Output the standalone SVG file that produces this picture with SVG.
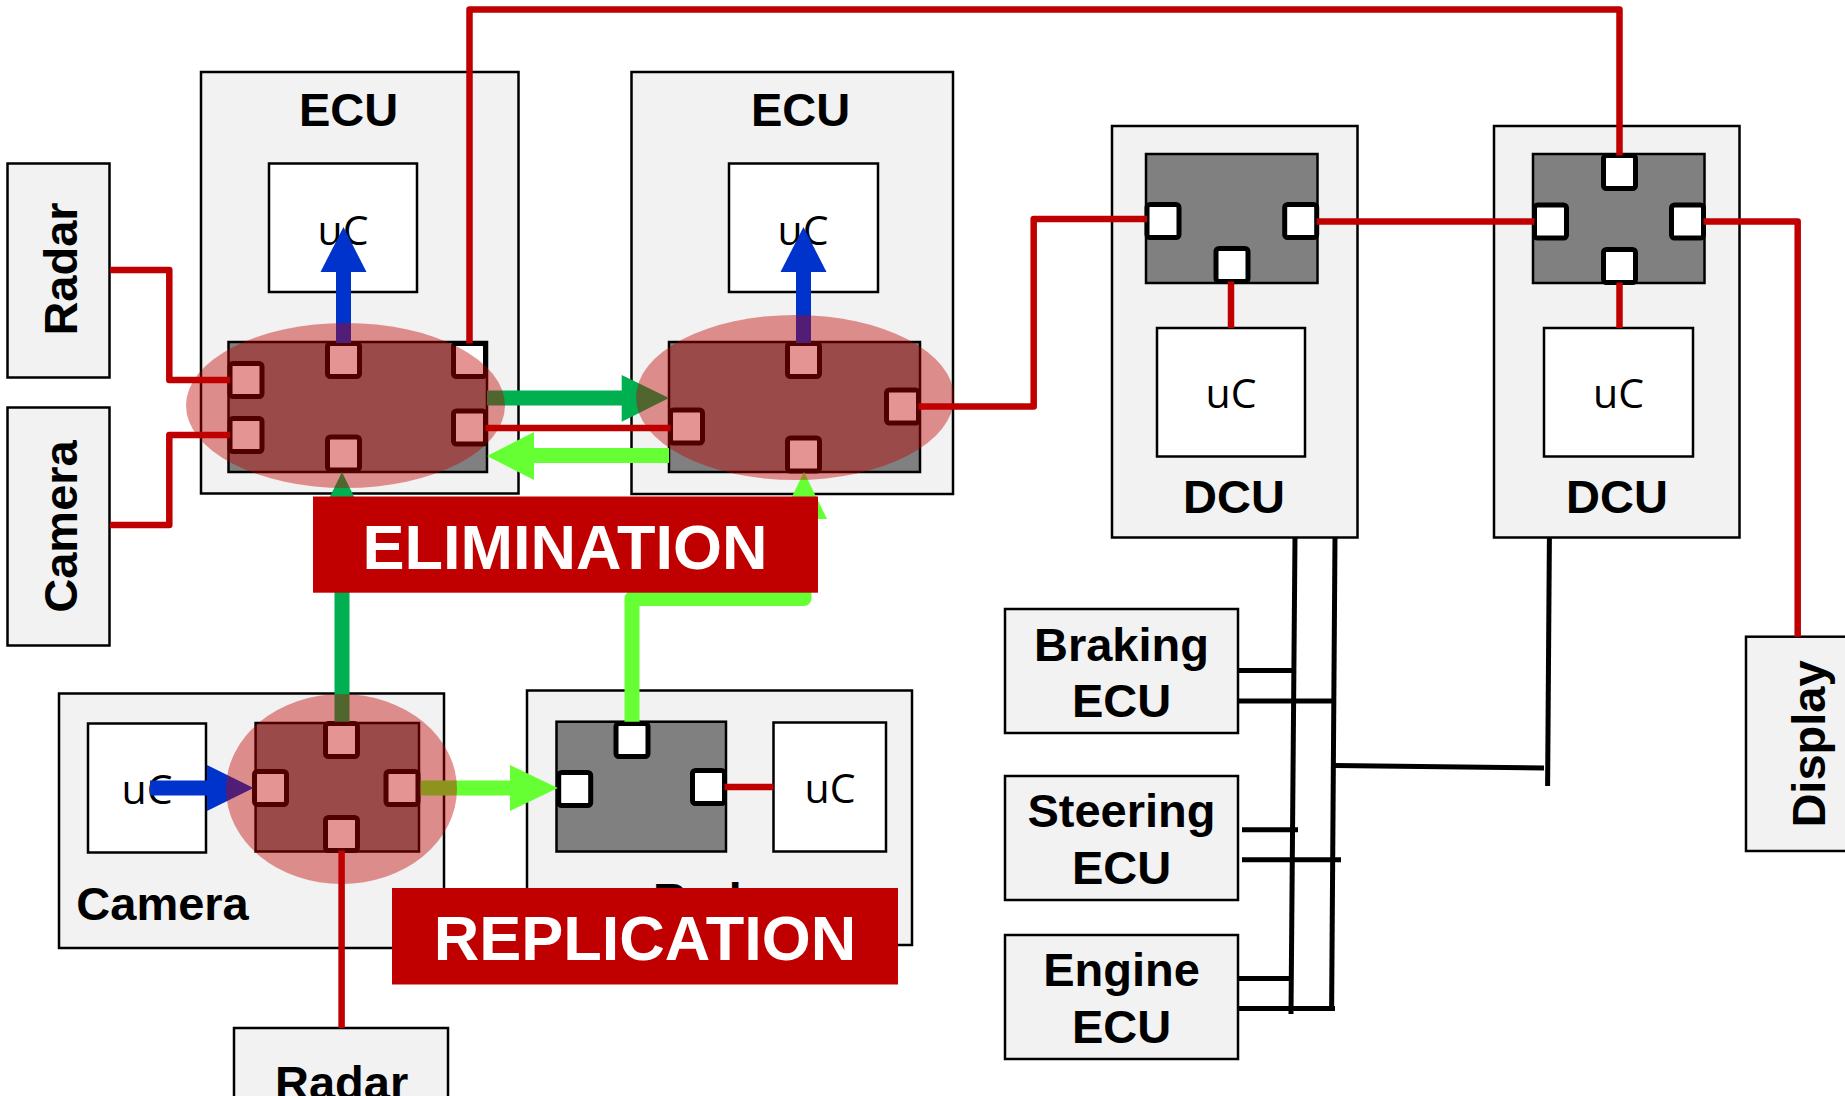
<svg xmlns="http://www.w3.org/2000/svg" width="1845" height="1096" viewBox="0 0 1845 1096">
<style>
.box{fill:#F2F2F2;stroke:#000;stroke-width:2.5}
.uc{fill:#fff;stroke:#000;stroke-width:2.5}
.chip{fill:#808080;stroke:#000;stroke-width:2.5}
.port{fill:#fff;stroke:#000;stroke-width:5}
.lbl{font-family:"Liberation Sans",Arial,sans-serif;font-weight:bold;font-size:47px;text-anchor:middle;fill:#000}
.uct{font-family:"Open Sans","DejaVu Sans",sans-serif;font-size:41px;text-anchor:middle;fill:#000}
.red{fill:none;stroke:#C00000;stroke-width:6.5;stroke-linejoin:round}
.bus{fill:none;stroke:#000;stroke-width:5}
.hl{fill:#C00000;fill-opacity:0.42}
.banner{fill:#C00000}
.bt{font-family:"Liberation Sans",Arial,sans-serif;font-weight:bold;font-size:63px;fill:#fff;text-anchor:middle}
.blue{fill:#0033CC}.blueS{stroke:#0033CC;stroke-width:15;fill:none}
.dg{fill:#00B050}.dgS{stroke:#00B050;stroke-width:15;fill:none}
.lg{fill:#66FF33}.lgS{stroke:#66FF33;stroke-width:15;fill:none;stroke-linejoin:round}
</style>

<g id="radar-left">
<rect class="box" x="7.5" y="163.5" width="102" height="214"/>
<text class="lbl" transform="translate(76.7,269) rotate(-90)">Radar</text>
</g>
<g id="camera-left">
<rect class="box" x="7.5" y="407.5" width="102" height="238"/>
<text class="lbl" transform="translate(76.7,526.5) rotate(-90)">Camera</text>
</g>

<g id="ecu1">
<rect class="box" x="201" y="72" width="317.5" height="421.5"/>
<text class="lbl" x="348.5" y="126">ECU</text>
<rect class="uc" x="269" y="163.5" width="148" height="128.5"/>
<text class="uct" x="343" y="245">uC</text>
<rect class="chip" x="228.5" y="342" width="258.5" height="130"/>
<rect class="port" x="230" y="363.5" width="32" height="33" rx="3"/>
<rect class="port" x="230" y="418.5" width="32" height="33" rx="3"/>
<rect class="port" x="327.5" y="343.5" width="32" height="33" rx="3"/>
<rect class="port" x="453.5" y="343.5" width="32" height="33" rx="3"/>
<rect class="port" x="453.5" y="411" width="32" height="33" rx="3"/>
<rect class="port" x="327.5" y="437" width="32" height="33" rx="3"/>
</g>

<g id="ecu2">
<rect class="box" x="631.5" y="72" width="321.5" height="422"/>
<text class="lbl" x="800.5" y="126">ECU</text>
<rect class="uc" x="729" y="163.5" width="149" height="128.5"/>
<text class="uct" x="803" y="245">uC</text>
<rect class="chip" x="669" y="342" width="251" height="130"/>
<rect class="port" x="670.5" y="410" width="32" height="33" rx="3"/>
<rect class="port" x="787.5" y="343.5" width="32" height="33" rx="3"/>
<rect class="port" x="886.5" y="390" width="32" height="33" rx="3"/>
<rect class="port" x="787.5" y="438" width="32" height="33" rx="3"/>
</g>

<g id="dcu1">
<rect class="box" x="1112" y="126" width="245.5" height="411.5"/>
<rect class="chip" x="1146" y="154" width="171.5" height="129"/>
<rect class="port" x="1147" y="204.5" width="32" height="33" rx="3"/>
<rect class="port" x="1284.7" y="204.5" width="32" height="33" rx="3"/>
<rect class="port" x="1216" y="248.5" width="32" height="33" rx="3"/>
<rect class="uc" x="1157" y="328" width="148" height="128.5"/>
<text class="uct" x="1231" y="408">uC</text>
<text class="lbl" x="1234" y="513">DCU</text>
</g>

<g id="dcu2">
<rect class="box" x="1494" y="126" width="245.5" height="411.5"/>
<rect class="chip" x="1533" y="154" width="171.5" height="129"/>
<rect class="port" x="1603.5" y="155.5" width="32" height="33" rx="3"/>
<rect class="port" x="1534.5" y="205" width="32" height="33" rx="3"/>
<rect class="port" x="1671.5" y="205" width="32" height="33" rx="3"/>
<rect class="port" x="1603.5" y="249.5" width="32" height="33" rx="3"/>
<rect class="uc" x="1544" y="328" width="149" height="128.5"/>
<text class="uct" x="1618.5" y="408">uC</text>
<text class="lbl" x="1617" y="513">DCU</text>
</g>

<g id="camera">
<rect class="box" x="59" y="693.5" width="385" height="254.5"/>
<rect class="uc" x="88" y="723.5" width="118" height="129"/>
<text class="uct" x="147" y="804">uC</text>
<rect class="chip" x="255.6" y="723" width="163.4" height="128.5"/>
<rect class="port" x="325.5" y="723.5" width="32" height="33" rx="3"/>
<rect class="port" x="254.5" y="771.5" width="32" height="33" rx="3"/>
<rect class="port" x="386" y="771.5" width="32" height="33" rx="3"/>
<rect class="port" x="325.5" y="817.5" width="32" height="33" rx="3"/>
<text class="lbl" x="76.3" y="919.6" style="text-anchor:start">Camera</text>
</g>

<g id="radar-mid">
<rect class="box" x="527" y="690.5" width="385" height="254.5"/>
<rect class="chip" x="556.5" y="721.7" width="169.5" height="129.8"/>
<rect class="port" x="616" y="723.5" width="32" height="33" rx="3"/>
<rect class="port" x="558.7" y="772.5" width="32" height="33" rx="3"/>
<rect class="port" x="692.5" y="770.5" width="32" height="33" rx="3"/>
<rect class="uc" x="773.5" y="722.5" width="112.5" height="129"/>
<text class="uct" x="830" y="803">uC</text>
<text class="lbl" x="719.5" y="915.5">Radar</text>
</g>

<g id="radar-bottom">
<rect class="box" x="234" y="1028" width="214" height="100"/>
<text class="lbl" x="341.6" y="1098.5">Radar</text>
</g>

<g id="braking-ecu">
<rect class="box" x="1005" y="609" width="233" height="124"/>
<text class="lbl" x="1121.5" y="661.4">Braking</text>
<text class="lbl" x="1121.5" y="717">ECU</text>
</g>
<g id="steering-ecu">
<rect class="box" x="1005" y="776" width="233" height="124"/>
<text class="lbl" x="1121.5" y="826.8">Steering</text>
<text class="lbl" x="1121.5" y="884.4">ECU</text>
</g>
<g id="engine-ecu">
<rect class="box" x="1005" y="935" width="233" height="124"/>
<text class="lbl" x="1121.5" y="986">Engine</text>
<text class="lbl" x="1121.5" y="1042.8">ECU</text>
</g>

<g id="display">
<rect class="box" x="1746" y="636.7" width="130" height="214.3"/>
<text class="lbl" transform="translate(1825,744) rotate(-90)">Display</text>
</g>

<g id="connectors">
<path class="red" d="M110 270 H169.3 V380 H230"/>
<path class="red" d="M110 525 H169.3 V435 H230"/>
<path class="red" d="M469.5 343.5 V9.5 H1619.5 V155.5"/>
<path class="red" d="M485.5 428 H670.5"/>
<path class="red" d="M918.5 406.5 H1033.7 V219 H1147"/>
<path class="red" d="M1316.7 221.4 H1534.5"/>
<path class="red" d="M1703.5 221.5 H1797.7 V636.7"/>
<path class="red" d="M1231 281.5 V328"/>
<path class="red" d="M1619.5 282.5 V328"/>
<path class="red" d="M341.6 850.5 V1028"/>
<path class="red" d="M724.5 787 H773.5"/>

<path class="bus" d="M1295 537 L1291 1014"/>
<path class="bus" d="M1335 537 L1331.6 1010"/>
<path class="bus" d="M1238 670.6 H1292"/>
<path class="bus" d="M1238 701 H1333"/>
<path class="bus" d="M1242 829.7 H1298"/>
<path class="bus" d="M1242 859.8 H1341"/>
<path class="bus" d="M1238 978.5 H1289"/>
<path class="bus" d="M1238 1008.6 H1335"/>
<path class="bus" d="M1335 765.4 L1544 768"/>
<path class="bus" d="M1549.4 537 L1547.6 786"/>

<path class="blueS" d="M343.5 343 V271"/>
<polygon class="blue" points="320.5,272 366.5,272 343.5,227"/>
<path class="blueS" d="M803.5 343 V271"/>
<polygon class="blue" points="780.5,272 826.5,272 803.5,227"/>
<path class="blueS" d="M150 788 H208"/>
<polygon class="blue" points="207,765 207,811 253.5,788"/>

<path class="dgS" d="M487 398 H622.5"/>
<polygon class="dg" points="621.7,375 621.7,421.7 669,398"/>
<path class="lgS" d="M669 455.5 H533"/>
<polygon class="lg" points="534,432 534,480 487,456"/>

<path class="lgS" d="M420.7 788 H511"/>
<polygon class="lg" points="510,765 510,811 557.8,788"/>

<path class="dgS" d="M342 721.7 V518"/>
<polygon class="dg" points="319,519 365,519 342,472"/>

<path class="lgS" d="M632 721.7 V598.5 H804 V518"/>
<polygon class="lg" points="781,519 827,519 804,472"/>
</g>

<g id="highlights">
<ellipse class="hl" cx="345.5" cy="405.5" rx="159.5" ry="82.5"/>
<ellipse class="hl" cx="795" cy="397.5" rx="159" ry="82.5"/>
<ellipse class="hl" cx="341.5" cy="789" rx="115.5" ry="95"/>
</g>

<g id="elimination">
<rect class="banner" x="313" y="496.5" width="505" height="96.2"/>
<text class="bt" x="565" y="568.7">ELIMINATION</text>
</g>
<g id="replication">
<rect class="banner" x="392" y="888" width="506" height="96.5"/>
<text class="bt" x="645" y="960">REPLICATION</text>
</g>
</svg>
